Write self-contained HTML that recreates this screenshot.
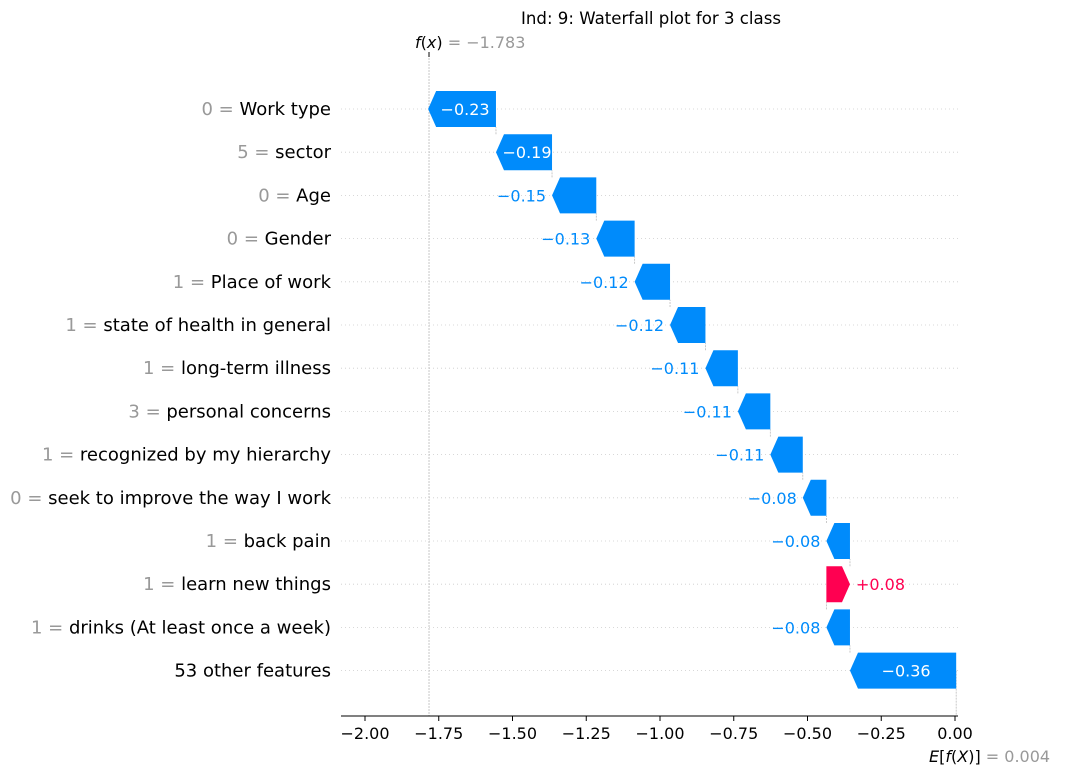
<!DOCTYPE html>
<html><head><meta charset="utf-8"><style>
body{margin:0;background:#fff;}
svg{font-family:"DejaVu Sans","Liberation Sans",sans-serif;}
</style></head><body>
<svg id="c" width="1065" height="776"></svg>
<script>
const features=["Work type","sector","Age","Gender","Place of work","state of health in general","long-term illness","personal concerns","recognized by my hierarchy","seek to improve the way I work","back pain","learn new things","drinks (At least once a week)","other features"];
const featureValues=["0","5","0","0","1","1","1","3","1","0","1","1","1",""];
const shapValues=[-0.23,-0.19,-0.15,-0.13,-0.12,-0.12,-0.11,-0.11,-0.11,-0.08,-0.08,0.08,-0.08,-0.36];
const otherCount=53;
const baseValue=0.004;
const fxValue=-1.783;
const xTicks=[-2.0,-1.75,-1.5,-1.25,-1.0,-0.75,-0.5,-0.25,0.0];

const svg=document.getElementById('c');
const NS='http://www.w3.org/2000/svg';
function X(v){return 365+(v+2)*295;}
function Y(i){return 109+i*43.2;}
function mk(t,a,txt){const e=document.createElementNS(NS,t);for(const k in a)e.setAttribute(k,a[k]);if(txt!=null)e.textContent=txt;svg.appendChild(e);return e;}
function fmt(v){return (v<0?'\u2212':'')+Math.abs(v).toFixed(2);}

let t=mk('text',{x:651,y:24,'text-anchor':'middle','font-size':16.6,fill:'#000'},'Ind: 9: Waterfall plot for 3 class');



const n=features.length;
for(let i=0;i<n;i++){
  const g=mk('line',{x1:341,x2:958,y1:Y(i),y2:Y(i),stroke:'#ccc','stroke-width':0.8,'stroke-dasharray':'1,3'});
  
  
}
let l=mk('line',{x1:X(fxValue),x2:X(fxValue),y1:55,y2:716,stroke:'#bbb','stroke-width':0.8,'stroke-dasharray':'2,1'});


l=mk('line',{x1:X(baseValue),x2:X(baseValue),y1:Y(n-1),y2:716,stroke:'#bbb','stroke-width':0.8,'stroke-dasharray':'2,1'});



let cur=baseValue;
const H=36;
for(let i=n-1;i>=0;i--){
  const v=shapValues[i];
  const a=cur,b=cur+v;
  const xa=X(a),xb=X(b),y=Y(i);
  const w=Math.abs(xb-xa);
  const head=Math.min(8,w);
  const col=v<0?'#008bfb':'#ff0051';
  let pts;
  if(v<0){pts=[[xa,y-H/2],[xb+head,y-H/2],[xb,y],[xb+head,y+H/2],[xa,y+H/2]];}
  else {pts=[[xa,y-H/2],[xb-head,y-H/2],[xb,y],[xb-head,y+H/2],[xa,y+H/2]];}
  const p=mk('polygon',{points:pts.map(q=>q.join(',')).join(' '),fill:col});
  
  
  if(i>0){const c=mk('line',{x1:xb,x2:xb,y1:y-H/2,y2:Y(i-1)+H/2,stroke:'#bbb','stroke-width':0.8,'stroke-dasharray':'2,1'});
    
    }
  const label=(v>0?'+':'')+fmt(v);
  let tx;
  if(w>52){tx=mk('text',{x:(xa+xb)/2+(v<0?3:-3),y:y+6,'text-anchor':'middle','font-size':16,fill:'#fff'},label);}
  else if(v<0){tx=mk('text',{x:xb-6,y:y+6,'text-anchor':'end','font-size':16,fill:col},label);}
  else {tx=mk('text',{x:xb+6,y:y+6,'text-anchor':'start','font-size':16,fill:col},label);}
  
  
  cur=b;
}

for(let i=0;i<n;i++){
  const e=mk('text',{x:331,y:Y(i)+6,'text-anchor':'end','font-size':18,fill:'#000'});
  
  
  if(featureValues[i]!==''){
    const s=document.createElementNS(NS,'tspan');s.setAttribute('fill','#999');s.textContent=featureValues[i]+' = ';e.appendChild(s);
    const s2=document.createElementNS(NS,'tspan');s2.textContent=features[i];e.appendChild(s2);
  } else e.textContent=otherCount+' '+features[i];
}

l=mk('line',{x1:341,x2:958,y1:716,y2:716,stroke:'#000','stroke-width':1});


xTicks.forEach(v=>{
  const k=mk('line',{x1:X(v),x2:X(v),y1:716,y2:721,stroke:'#000','stroke-width':1});
  
  
  const tl=mk('text',{x:X(v),y:739,'text-anchor':'middle','font-size':16,fill:'#000'},fmt(v));
  
  
});
l=mk('line',{x1:X(fxValue),x2:X(fxValue),y1:52,y2:57,stroke:'#000','stroke-width':1});


let f=mk('text',{x:X(fxValue)-14,y:48,'font-size':16,fill:'#000'});


f.innerHTML='<tspan font-style="italic">f</tspan>(<tspan font-style="italic">x</tspan>)<tspan fill="#999"> = \u2212'+Math.abs(fxValue).toFixed(3)+'</tspan>';
let ef=mk('text',{x:929,y:762,'font-size':16,fill:'#000'});


ef.innerHTML='<tspan font-style="italic">E</tspan>[<tspan font-style="italic">f</tspan>(<tspan font-style="italic">X</tspan>)]<tspan fill="#999"> = '+baseValue.toFixed(3)+'</tspan>';
</script>
</body></html>
